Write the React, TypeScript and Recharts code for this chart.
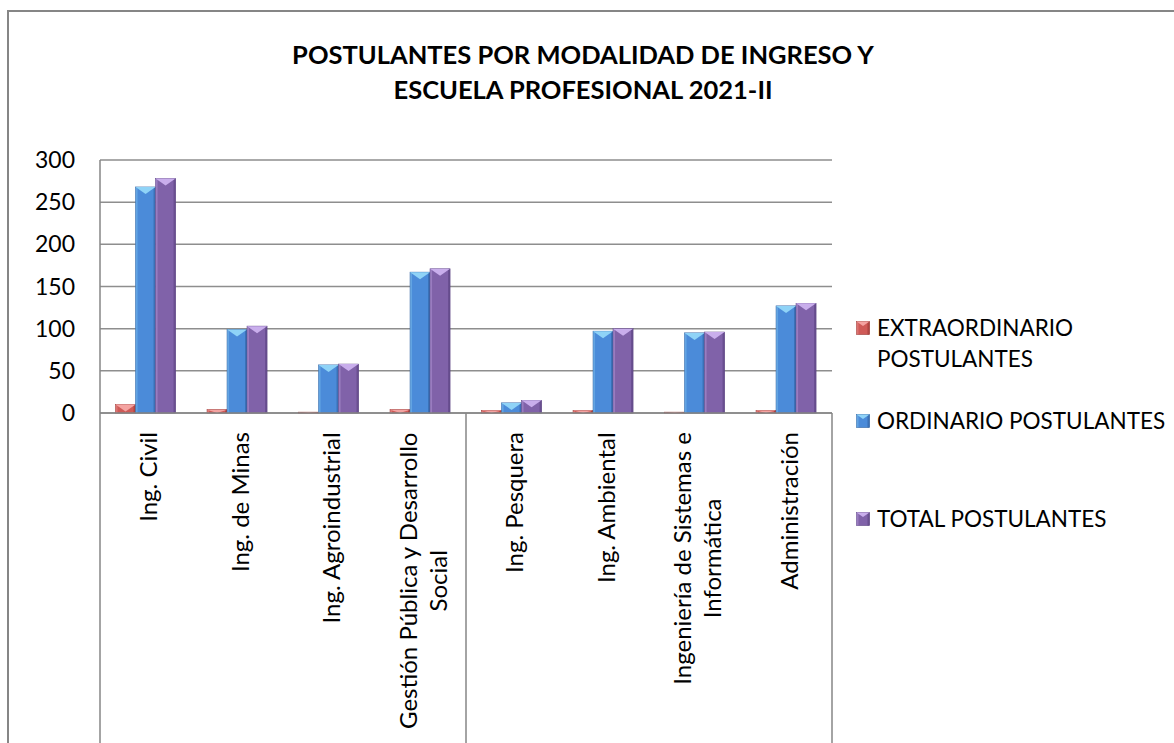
import { BarChart, Bar, XAxis, YAxis, CartesianGrid } from "recharts"

const CATEGORIES = [
    "Ing. Civil",
    "Ing. de Minas",
    "Ing. Agroindustrial",
    "Gestión Pública y Desarrollo\nSocial",
    "Ing. Pesquera",
    "Ing. Ambiental",
    "Ingeniería de Sistemas e\nInformática",
    "Administración",
]
const EXTRAORDINARIO = [10, 4, 1, 4, 3, 3, 1, 3]
const ORDINARIO = [268, 99, 57, 167, 12, 97, 95, 127]
const TOTAL = [278, 103, 58, 171, 15, 100, 96, 130]
const Y_TICKS = [0, 50, 100, 150, 200, 250, 300]
const TITLE_LINES = ["POSTULANTES POR MODALIDAD DE INGRESO Y", "ESCUELA PROFESIONAL 2021-II"]
// categories are split in two groups on the axis
const GROUP_ENDS = [3, 7]

const SERIES = [
    { key: "extra", name: ["EXTRAORDINARIO", "POSTULANTES"], base: "#CF5A57", light: "#F4A3A1", dark: "#9A3734" },
    { key: "ordinario", name: ["ORDINARIO POSTULANTES"], base: "#4B8BD9", light: "#8FD3F7", dark: "#2F5F9E" },
    { key: "total", name: ["TOTAL POSTULANTES"], base: "#8062A9", light: "#C9AEEC", dark: "#5A4280" },
]

const data = CATEGORIES.map((name, i) => ({
    name,
    extra: EXTRAORDINARIO[i],
    ordinario: ORDINARIO[i],
    total: TOTAL[i],
}))

const W = 1174
const H = 743
const FONT = "Lato, 'Open Sans', sans-serif"
const MARGIN = { top: 160, right: 342, bottom: 0, left: 0 }
const Y_AXIS_W = 100
const X_AXIS_H = 330
const PLOT_W = W - MARGIN.left - MARGIN.right - Y_AXIS_W
const BAND = PLOT_W / CATEGORIES.length
const AXIS_COLOR = "#868686"
const CAT_FONT = 24
const LINE_H = 30
const LEGEND_TOPS = [312, 405, 503]

let measureCtx: CanvasRenderingContext2D | null = null
function textWidth(text: string, size: number): number {
    if (!measureCtx) measureCtx = document.createElement("canvas").getContext("2d")
    if (!measureCtx) return text.length * size * 0.5
    measureCtx.font = `${size}px Lato`
    return measureCtx.measureText(text).width
}

type Tone = { base: string; light: string; dark: string }

function BevelRect({ x, y, width, height, tone }: { x: number; y: number; width: number; height: number; tone: Tone }) {
    if (!height || height <= 0) return null
    const tri = Math.min(height, width * 0.35)
    return (
        <g>
            <rect x={x} y={y} width={width} height={height} fill={tone.base} stroke={tone.dark} strokeWidth={0.6} />
            <rect x={x} y={y} width={Math.min(2, width)} height={height} fill={tone.light} opacity={0.35} />
            <rect x={x + width - 2} y={y} width={2} height={height} fill={tone.dark} opacity={0.6} />
            <polygon points={`${x},${y} ${x + width},${y} ${x + width / 2},${y + tri}`} fill={tone.light} />
        </g>
    )
}

function CategoryTick(props: any) {
    const { x, y, payload, index } = props
    const lines = String(payload.value).split("\n")
    const w = Math.max(...lines.map((l) => textWidth(l, CAT_FONT)))
    const cy = y + 19 + w / 2
    const n = lines.length
    return (
        <g>
            {index === 0 && <line x1={x - BAND / 2} x2={x - BAND / 2} y1={y} y2={H} stroke={AXIS_COLOR} strokeWidth={1.5} />}
            {GROUP_ENDS.includes(index) && (
                <line x1={x + BAND / 2} x2={x + BAND / 2} y1={y} y2={H} stroke={AXIS_COLOR} strokeWidth={1.5} />
            )}
            {lines.map((ln, i) => {
                const lx = x + 2 + (i - (n - 1) / 2) * LINE_H
                return (
                    <text
                        key={i}
                        x={lx}
                        y={cy}
                        transform={`rotate(-90 ${lx} ${cy})`}
                        textAnchor="middle"
                        dominantBaseline="central"
                        fontSize={CAT_FONT}
                        fontFamily={FONT}
                        fill="#000"
                    >
                        {ln}
                    </text>
                )
            })}
        </g>
    )
}

export default function App() {
    return (
        <div style={{ position: "absolute", left: 0, top: 0, width: W, height: H, overflow: "hidden", background: "#fff", fontFamily: FONT }}>
            <div style={{ position: "absolute", left: 7, top: 10, width: 1300, height: 900, border: `2px solid ${AXIS_COLOR}` }} />
            <div style={{ position: "absolute", left: 0, top: 37, width: 1166, textAlign: "center", fontWeight: 700, fontSize: 25.5, lineHeight: "35px", color: "#000" }}>
                {TITLE_LINES.map((t) => (
                    <div key={t}>{t}</div>
                ))}
            </div>
            <div style={{ position: "absolute", left: 0, top: 0 }}>
                <BarChart width={W} height={H} data={data} margin={MARGIN} barCategoryGap="17%" barGap={0}>
                    <CartesianGrid vertical={false} stroke="#8e8e8e" strokeWidth={1.5} />
                    <XAxis
                        dataKey="name"
                        height={X_AXIS_H}
                        interval={0}
                        tickLine={false}
                        tickSize={0}
                        tickMargin={0}
                        axisLine={{ stroke: AXIS_COLOR, strokeWidth: 1.5 }}
                        tick={<CategoryTick />}
                    />
                    <YAxis
                        width={Y_AXIS_W}
                        domain={[0, 300]}
                        ticks={Y_TICKS}
                        interval={0}
                        tickLine={false}
                        tickSize={0}
                        tickMargin={25}
                        axisLine={{ stroke: AXIS_COLOR, strokeWidth: 1.5 }}
                        tick={{ fontSize: 23, fontFamily: FONT, fill: "#000" }}
                    />
                    {SERIES.map((s) => (
                        <Bar
                            key={s.key}
                            dataKey={s.key}
                            fill={s.base}
                            isAnimationActive={false}
                            shape={(p: any) => <BevelRect x={p.x} y={p.y} width={p.width} height={p.height} tone={s} />}
                        />
                    ))}
                </BarChart>
            </div>
            {SERIES.map((s, i) => (
                <div key={s.key} style={{ position: "absolute", left: 856, top: LEGEND_TOPS[i], fontSize: 22.5, lineHeight: "31px", color: "#000" }}>
                    <svg width={14} height={14} style={{ position: "absolute", left: 0, top: 9 }}>
                        <BevelRect x={0.5} y={0.5} width={13} height={13} tone={s} />
                    </svg>
                    <div style={{ marginLeft: 21 }}>
                        {s.name.map((n) => (
                            <div key={n}>{n}</div>
                        ))}
                    </div>
                </div>
            ))}
        </div>
    )
}
